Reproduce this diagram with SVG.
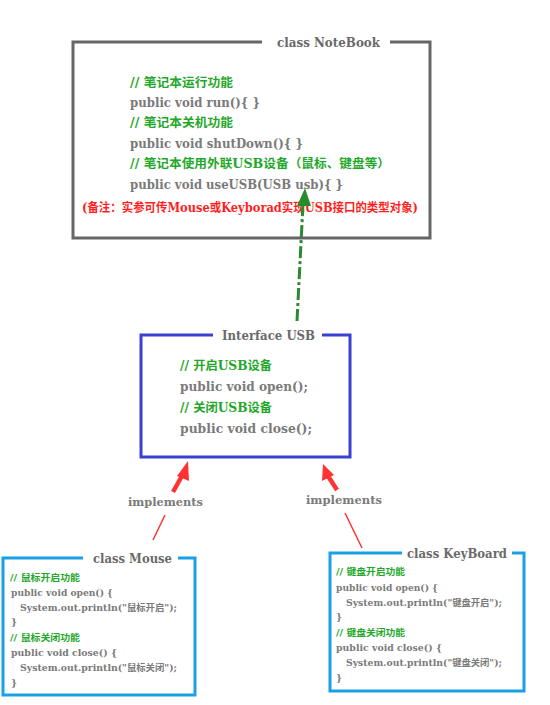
<svg xmlns="http://www.w3.org/2000/svg" width="550" height="705" viewBox="0 0 550 705">
<style>
text{font-family:"DejaVu Serif","Noto Sans CJK SC",serif;font-weight:bold}
.t{fill:#6a6a6a;font-size:12.5px}
.c{fill:#7a7a7a;font-size:12px}
.g{fill:#1fa82a;font-size:12px}
.r{fill:#ff1f1f;font-size:12px}
.cs{fill:#7a7a7a;font-size:9.5px}
.gs{fill:#1fa82a;font-size:9.5px}
.lbl{fill:#7a7a7a;font-size:11.5px}
.box{fill:none;stroke-width:3}
</style>
<rect width="550" height="705" fill="#ffffff"/>
<g id="notebook">
<path class="box" stroke="#666666" d="M262,42 H73 V238 H430 V42 H390"/>
<text class="t" x="277" y="46.5" textLength="103" lengthAdjust="spacingAndGlyphs">class NoteBook</text>
<text class="g" x="130" y="86.5" textLength="103" lengthAdjust="spacingAndGlyphs">// 笔记本运行功能</text>
<text class="c" x="130" y="106.5" textLength="130" lengthAdjust="spacingAndGlyphs">public void run(){ }</text>
<text class="g" x="130" y="126.5" textLength="103" lengthAdjust="spacingAndGlyphs">// 笔记本关机功能</text>
<text class="c" x="130" y="148" textLength="173" lengthAdjust="spacingAndGlyphs">public void shutDown(){ }</text>
<text class="g" x="130" y="167.5" textLength="260" lengthAdjust="spacingAndGlyphs">// 笔记本使用外联USB设备（鼠标、键盘等）</text>
<text class="c" x="130" y="188.5" textLength="213" lengthAdjust="spacingAndGlyphs">public void useUSB(USB usb){ }</text>
<text class="r" x="82" y="211.5" textLength="336" lengthAdjust="spacingAndGlyphs">(备注：实参可传Mouse或Keyborad实现USB接口的类型对象)</text>
</g>
<g id="usb">
<path class="box" stroke="#3a40cf" d="M213,335 H141 V457 H350 V335 H322"/>
<text class="t" x="222" y="339.5" textLength="93" lengthAdjust="spacingAndGlyphs">Interface USB</text>
<text class="g" x="180" y="369.5" textLength="92" lengthAdjust="spacingAndGlyphs">// 开启USB设备</text>
<text class="c" x="180" y="390.5" textLength="128" lengthAdjust="spacingAndGlyphs">public void open();</text>
<text class="g" x="180" y="411.5" textLength="92" lengthAdjust="spacingAndGlyphs">// 关闭USB设备</text>
<text class="c" x="180" y="432.5" textLength="132" lengthAdjust="spacingAndGlyphs">public void close();</text>
</g>
<g id="mouse">
<path class="box" stroke="#1aa0e6" d="M83,558 H3 V695 H195 V558 H178"/>
<text class="t" x="93" y="562.5" textLength="79" lengthAdjust="spacingAndGlyphs">class Mouse</text>
<text class="gs" x="10" y="580.5" textLength="70" lengthAdjust="spacingAndGlyphs">// 鼠标开启功能</text>
<text class="cs" x="11" y="595.5" textLength="102" lengthAdjust="spacingAndGlyphs">public void open() {</text>
<text class="cs" x="20" y="610.5" textLength="157" lengthAdjust="spacingAndGlyphs">System.out.println("鼠标开启");</text>
<text class="cs" x="11" y="624.5">}</text>
<text class="gs" x="10" y="640.5" textLength="70" lengthAdjust="spacingAndGlyphs">// 鼠标关闭功能</text>
<text class="cs" x="11" y="655.5" textLength="106" lengthAdjust="spacingAndGlyphs">public void close() {</text>
<text class="cs" x="20" y="670.5" textLength="157" lengthAdjust="spacingAndGlyphs">System.out.println("鼠标关闭");</text>
<text class="cs" x="11" y="685.5">}</text>
</g>
<g id="keyboard">
<path class="box" stroke="#1aa0e6" d="M402,553 H330 V691 H524 V553 H512"/>
<text class="t" x="407" y="557.5" textLength="100" lengthAdjust="spacingAndGlyphs">class KeyBoard</text>
<text class="gs" x="336" y="574.5" textLength="69" lengthAdjust="spacingAndGlyphs">// 键盘开启功能</text>
<text class="cs" x="336" y="590.5" textLength="102" lengthAdjust="spacingAndGlyphs">public void open() {</text>
<text class="cs" x="346" y="605.5" textLength="156" lengthAdjust="spacingAndGlyphs">System.out.println("键盘开启");</text>
<text class="cs" x="336" y="619.5">}</text>
<text class="gs" x="336" y="635.5" textLength="69" lengthAdjust="spacingAndGlyphs">// 键盘关闭功能</text>
<text class="cs" x="336" y="650.5" textLength="106" lengthAdjust="spacingAndGlyphs">public void close() {</text>
<text class="cs" x="346" y="665.5" textLength="156" lengthAdjust="spacingAndGlyphs">System.out.println("键盘关闭");</text>
<text class="cs" x="336" y="680.5">}</text>
</g>
<g id="connectors">
<line x1="297" y1="321" x2="303" y2="204" stroke="#2a8a2e" stroke-width="3" stroke-dasharray="12,3,3,3"/>
<polygon points="305,188 297,206 311,206" fill="#2a8a2e"/>
<line x1="153" y1="540" x2="165" y2="515" stroke="#ff3333" stroke-width="1.5"/>
<line x1="173" y1="492" x2="183" y2="474" stroke="#ff3333" stroke-width="4.5"/>
<polygon points="188,461 177,476 189,481" fill="#ff3333"/>
<text class="lbl" x="128" y="506" textLength="75" lengthAdjust="spacingAndGlyphs">implements</text>
<line x1="362" y1="548" x2="345" y2="513" stroke="#ff3333" stroke-width="1.5"/>
<line x1="337" y1="490" x2="328" y2="476" stroke="#ff3333" stroke-width="4.5"/>
<polygon points="323,464 322,481 334,475" fill="#ff3333"/>
<text class="lbl" x="306" y="504" textLength="76" lengthAdjust="spacingAndGlyphs">implements</text>
</g>
</svg>
